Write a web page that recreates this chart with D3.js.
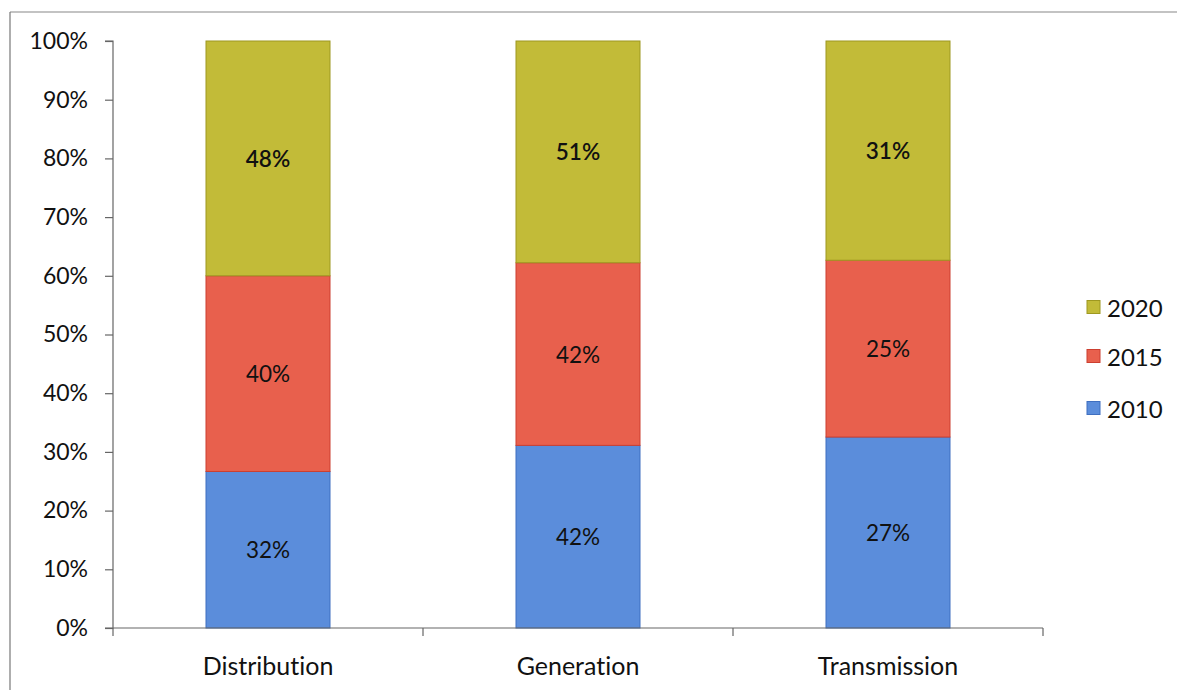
<!DOCTYPE html>
<html>
<head>
<meta charset="utf-8">
<script src="https://cdnjs.cloudflare.com/ajax/libs/d3/7.8.5/d3.min.js"></script>
<style>
  html, body { margin: 0; padding: 0; background: #fff; }
  svg text { font-family: Lato, "Open Sans", sans-serif; fill: #111; font-variant-ligatures: none; }
</style>
</head>
<body>
<svg id="chart" width="1177" height="690"></svg>
<script>
// Stacked 100% columns; labels show the raw value of each segment
const categories = ["Distribution", "Generation", "Transmission"];
const years = ["2010", "2015", "2020"];
const values2010 = [32, 42, 27];
const values2015 = [40, 42, 25];
const values2020 = [48, 51, 31];
const yTicks = [0, 0.1, 0.2, 0.3, 0.4, 0.5, 0.6, 0.7, 0.8, 0.9, 1.0];

const seriesValues = { "2010": values2010, "2015": values2015, "2020": values2020 };
const colors = { "2010": "#5b8ddb", "2015": "#e8604d", "2020": "#c2bb38" };
const strokes = { "2010": "#3f6fc0", "2015": "#cc3f30", "2020": "#9e9820" };

const svg = d3.select("#chart");

// outer frame lines
svg.append("line").attr("x1", 10).attr("x2", 1177).attr("y1", 12).attr("y2", 12)
  .attr("stroke", "#888").attr("stroke-width", 1.2);
svg.append("line").attr("x1", 10).attr("x2", 10).attr("y1", 12).attr("y2", 690)
  .attr("stroke", "#777").attr("stroke-width", 1.2);

const plot = { left: 113, right: 1043, top: 41, bottom: 628 };

const x = d3.scaleBand().domain(categories).range([plot.left, plot.right]).paddingInner(0.6).paddingOuter(0.3);
const xOuter = d3.scaleBand().domain(categories).range([plot.left, plot.right]);
const y = d3.scaleLinear().domain([0, 1]).range([plot.bottom, plot.top]);

// rows per category, normalised to shares
const table = categories.map((c, i) => {
  const row = { category: c };
  years.forEach(yr => row[yr] = seriesValues[yr][i]);
  row.total = d3.sum(years, yr => row[yr]);
  return row;
});
const stack = d3.stack().keys(years).value((d, k) => d[k] / d.total);
const layers = stack(table);

const g = svg.append("g");
layers.forEach(layer => {
  const yr = layer.key;
  layer.forEach(seg => {
    const cat = seg.data.category;
    g.append("rect")
      .attr("x", x(cat)).attr("width", x.bandwidth())
      .attr("y", y(seg[1])).attr("height", y(seg[0]) - y(seg[1]))
      .attr("fill", colors[yr]).attr("stroke", strokes[yr]).attr("stroke-width", 1);
    g.append("text")
      .attr("x", x(cat) + x.bandwidth() / 2)
      .attr("y", (y(seg[0]) + y(seg[1])) / 2)
      .attr("text-anchor", "middle").attr("dominant-baseline", "central")
      .style("font-size", "22.5px")
      .style("font-weight", yr === "2020" ? "600" : "400")
      .text(seg.data[yr] + "%");
  });
});

// y axis
const yAxis = d3.axisLeft(y).tickValues(yTicks).tickFormat(d3.format(".0%")).tickSize(8).tickPadding(17);
const ya = svg.append("g").attr("transform", `translate(${plot.left},0)`).call(yAxis);
ya.selectAll("path, line").attr("stroke", "#666").attr("stroke-width", 1.2);
ya.select(".domain").attr("d", `M-8,${plot.top}H0V${plot.bottom}H-8`);
ya.selectAll("text").style("font-size", "23px").attr("fill", "#111");

// x axis baseline and category separators
const xa = svg.append("g");
xa.append("line").attr("x1", plot.left).attr("x2", plot.right).attr("y1", plot.bottom).attr("y2", plot.bottom)
  .attr("stroke", "#666").attr("stroke-width", 1.2);
const bounds = categories.map(c => xOuter(c)).concat([plot.right]);
bounds.forEach(bx => {
  xa.append("line").attr("x1", bx).attr("x2", bx).attr("y1", plot.bottom).attr("y2", plot.bottom + 8)
    .attr("stroke", "#666").attr("stroke-width", 1.2);
});
categories.forEach(c => {
  xa.append("text").attr("x", x(c) + x.bandwidth() / 2).attr("y", 665)
    .attr("text-anchor", "middle").attr("dominant-baseline", "central")
    .style("font-size", "25px").text(c);
});

// legend
const legendYears = ["2020", "2015", "2010"];
const legendY = [307, 356, 408];
legendYears.forEach((yr, i) => {
  svg.append("rect").attr("x", 1087).attr("y", legendY[i] - 6.5).attr("width", 13).attr("height", 13)
    .attr("fill", colors[yr]).attr("stroke", strokes[yr]).attr("stroke-width", 1);
  svg.append("text").attr("x", 1107).attr("y", legendY[i]).attr("dominant-baseline", "central")
    .style("font-size", "24px").text(yr);
});
</script>
</body>
</html>
